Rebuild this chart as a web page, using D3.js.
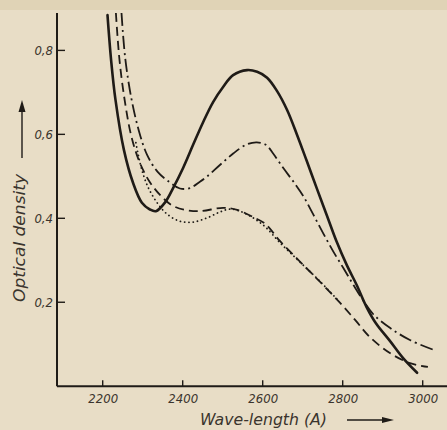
<!DOCTYPE html>
<html>
<head>
<meta charset="utf-8">
<script src="https://cdn.jsdelivr.net/npm/d3@7"></script>
<style>
  html, body { margin: 0; padding: 0; background: #e8ddc6; }
  svg { display: block; }
  text { font-family: "DejaVu Sans Condensed", "DejaVu Sans", sans-serif; font-style: italic; fill: #3a342d; }
</style>
</head>
<body>
<svg id="chart" width="447" height="430"></svg>
<script>
// Absorption spectra: wavelength (Å) vs optical density, four samples
const xTicks = [2200, 2400, 2600, 2800, 3000];
const yTicks = [0.2, 0.4, 0.6, 0.8];
const yTickLabels = ["0,2", "0,4", "0,6", "0,8"];

const solidWl = [2212, 2221, 2232, 2253, 2276, 2298, 2318, 2333, 2356, 2376, 2401, 2426, 2451, 2476, 2501, 2526, 2561, 2586, 2611, 2636, 2661, 2685, 2710, 2735, 2760, 2785, 2810, 2835, 2860, 2883, 2918, 2951, 2986];
const solidOD = [0.884, 0.777, 0.682, 0.563, 0.484, 0.437, 0.421, 0.417, 0.438, 0.472, 0.520, 0.575, 0.629, 0.677, 0.713, 0.741, 0.753, 0.749, 0.735, 0.703, 0.658, 0.601, 0.537, 0.472, 0.408, 0.344, 0.289, 0.241, 0.188, 0.150, 0.108, 0.067, 0.032];

const dashDotWl = [2247, 2256, 2271, 2290, 2311, 2338, 2366, 2393, 2418, 2443, 2460, 2493, 2527, 2560, 2585, 2608, 2627, 2652, 2677, 2702, 2727, 2752, 2777, 2802, 2827, 2852, 2876, 2918, 2968, 3026];
const dashDotOD = [0.889, 0.784, 0.689, 0.610, 0.551, 0.510, 0.487, 0.471, 0.472, 0.487, 0.499, 0.527, 0.555, 0.576, 0.581, 0.575, 0.553, 0.519, 0.487, 0.452, 0.408, 0.363, 0.320, 0.281, 0.241, 0.203, 0.172, 0.139, 0.110, 0.087];

const dashedWl = [2233, 2242, 2256, 2272, 2293, 2318, 2346, 2373, 2406, 2443, 2501, 2536, 2576, 2606, 2643, 2693, 2743, 2793, 2831, 2868, 2918, 2968, 3013];
const dashedOD = [0.889, 0.777, 0.675, 0.594, 0.532, 0.486, 0.453, 0.431, 0.420, 0.417, 0.425, 0.420, 0.403, 0.387, 0.346, 0.297, 0.249, 0.199, 0.158, 0.117, 0.079, 0.055, 0.046];

const dottedWl = [2283, 2289, 2298, 2313, 2336, 2361, 2393, 2426, 2461, 2493, 2518, 2543, 2576, 2606, 2643, 2693, 2743, 2788];
const dottedOD = [0.580, 0.551, 0.515, 0.475, 0.437, 0.410, 0.393, 0.391, 0.401, 0.415, 0.422, 0.417, 0.401, 0.380, 0.342, 0.296, 0.250, 0.205];

const svg = d3.select("#chart");
const ink = "#1f1b17";

// paper tone, slightly darker band along the top edge
svg.append("rect").attr("x", 0).attr("y", 0).attr("width", 447).attr("height", 430).attr("fill", "#e8ddc6");
svg.append("rect").attr("x", 0).attr("y", 0).attr("width", 447).attr("height", 10).attr("fill", "#e0d3b6");

const x = d3.scaleLinear().domain([2200, 3000]).range([102.7, 422.7]);
const y = d3.scaleLinear().domain([0, 0.8]).range([386.2, 50.4]);

const x0 = x.invert(57), x1 = x.invert(447);
const yTop = y.invert(13);

// axes: bare lines with inward ticks
const xAxis = d3.axisBottom(x).tickValues(xTicks).tickSize(0).tickPadding(8).tickFormat(d3.format("d"));
const gx = svg.append("g").attr("transform", `translate(0,${y(0)})`).call(xAxis);
gx.select(".domain").remove();
gx.selectAll("text").attr("font-size", 13).attr("fill", "#3a342d");
svg.append("g").selectAll("line").data(xTicks).join("line")
  .attr("x1", d => x(d)).attr("x2", d => x(d))
  .attr("y1", y(0)).attr("y2", y(0) - 6)
  .attr("stroke", ink).attr("stroke-width", 1.4);

const yAxis = d3.axisLeft(y).tickValues(yTicks).tickSize(0).tickPadding(4)
  .tickFormat((d, i) => yTickLabels[i]);
const gy = svg.append("g").attr("transform", `translate(${x(x0)},0)`).call(yAxis);
gy.select(".domain").remove();
gy.selectAll("text").attr("font-size", 13).attr("fill", "#3a342d");
svg.append("g").selectAll("line").data(yTicks).join("line")
  .attr("x1", x(x0)).attr("x2", x(x0) + 8)
  .attr("y1", d => y(d)).attr("y2", d => y(d))
  .attr("stroke", ink).attr("stroke-width", 1.4);

svg.append("line").attr("x1", x(x0)).attr("x2", x(x1)).attr("y1", y(0)).attr("y2", y(0))
  .attr("stroke", ink).attr("stroke-width", 2);
svg.append("line").attr("x1", x(x0)).attr("x2", x(x0)).attr("y1", y(0)).attr("y2", y(yTop))
  .attr("stroke", ink).attr("stroke-width", 2);

// curves
const line = d3.line().x(d => x(d[0])).y(d => y(d[1])).curve(d3.curveCatmullRom.alpha(0.5));
const plot = svg.append("g");
function drawCurve(wl, od, width, dash, cap) {
  plot.append("path")
    .datum(wl.map((w, i) => [w, od[i]]))
    .attr("d", line)
    .attr("fill", "none")
    .attr("stroke", ink)
    .attr("stroke-width", width)
    .attr("stroke-linecap", cap || "butt")
    .attr("stroke-dasharray", dash);
}
drawCurve(dottedWl, dottedOD, 1.8, "0.1 4.2", "round");
drawCurve(dashedWl, dashedOD, 1.8, "9 5");
drawCurve(dashDotWl, dashDotOD, 1.8, "13 4 2 4");
drawCurve(solidWl, solidOD, 2.6, null, "round");

// axis titles with arrows
const arrowHead = (g, tip, dir) => {
  const pts = dir === "up"
    ? [[tip[0], tip[1]], [tip[0] - 3.5, tip[1] + 12], [tip[0] + 3.5, tip[1] + 12]]
    : [[tip[0], tip[1]], [tip[0] - 12, tip[1] - 3], [tip[0] - 12, tip[1] + 3]];
  g.append("polygon").attr("points", pts.map(p => p.join(",")).join(" ")).attr("fill", ink);
};

svg.append("text")
  .attr("transform", "translate(25,238) rotate(-90)")
  .attr("text-anchor", "middle")
  .attr("font-size", 16)
  .attr("textLength", 128)
  .attr("lengthAdjust", "spacingAndGlyphs")
  .text("Optical density");
svg.append("line").attr("x1", 22).attr("x2", 22).attr("y1", 158).attr("y2", 108)
  .attr("stroke", ink).attr("stroke-width", 1.4);
arrowHead(svg, [22, 100], "up");

svg.append("text")
  .attr("x", 263.5).attr("y", 425)
  .attr("text-anchor", "middle")
  .attr("font-size", 15.5)
  .attr("textLength", 127)
  .attr("lengthAdjust", "spacingAndGlyphs")
  .text("Wave-length (A)");
svg.append("line").attr("x1", 347).attr("x2", 385).attr("y1", 420).attr("y2", 420)
  .attr("stroke", ink).attr("stroke-width", 1.4);
arrowHead(svg, [394, 420], "right");
</script>
</body>
</html>
